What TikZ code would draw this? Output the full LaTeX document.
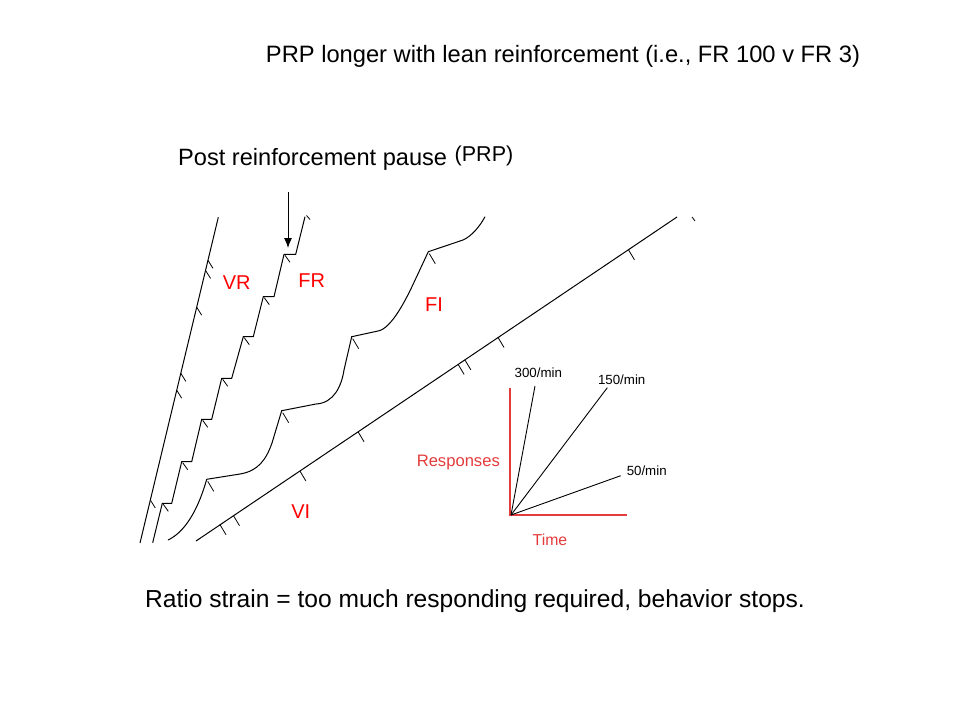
\documentclass[tikz,border=0pt]{standalone}
\usepackage{fontspec}
\setmainfont{Liberation Sans}
\usetikzlibrary{arrows.meta,calc}
\definecolor{axred}{RGB}{228,60,60}
\begin{document}
\begin{tikzpicture}[x=1pt,y=-1pt,
  curve/.style={black, line width=1pt, line join=miter},
  tickmark/.style={black, line width=0.8pt},
  lbl/.style={text=red, font=\fontsize{20}{20}\selectfont, anchor=base, inner sep=0pt},
  bigtxt/.style={text=black, anchor=base, inner sep=0pt},
  axisline/.style={axred, line width=1.6pt},
  rateline/.style={black, line width=0.9pt},
  ratelbl/.style={text=black, font=\fontsize{13.3}{13.3}\selectfont, anchor=base, inner sep=0pt},
  axlbl/.style={text=axred, anchor=base, inner sep=0pt}]
\path[use as bounding box] (0,0) rectangle (960,720);
\fill[white] (0,0) rectangle (960,720);

% texts
\node[bigtxt, font=\fontsize{23.7}{24}\selectfont] (title) at (563,62) {PRP longer with lean reinforcement (i.e., FR 100 v FR 3)};
\node[bigtxt, font=\fontsize{23.6}{24}\selectfont, anchor=base west] (prp) at (178,165) {Post reinforcement pause};
\node[bigtxt, font=\fontsize{21.5}{24}\selectfont] (prpabbr) at (484,161.5) {(PRP)};
\node[bigtxt, font=\fontsize{24.6}{25}\selectfont] (strain) at (475,607) {Ratio strain = too much responding required, behavior stops.};

% VR
\coordinate (vr0) at (140,543);
\coordinate (vr1) at (218.3,217.3);
\draw[curve] (vr0) -- (vr1);
\foreach \t in {0.132,0.469,0.521,0.724,0.837,0.868}
  \draw[tickmark] ($(vr0)!\t!(vr1)$) -- ++(5,8);

% FR
\coordinate (fr0) at (152.7,542.7);
\coordinate (fr1) at (162.3,503.3);
\coordinate (fr2) at (181.7,461.7);
\coordinate (fr3) at (201.7,419.3);
\coordinate (fr4) at (221.7,378.3);
\coordinate (fr5) at (243.3,336.7);
\coordinate (fr6) at (263.3,296.7);
\coordinate (fr7) at (284,254.3);
\coordinate (fr8) at (305,216.7);
\draw[curve] (fr0) -- (fr1) -- ++(9.4,0) -- (fr2) -- ++(10,0) -- (fr3) -- ++(10,0)
  -- (fr4) -- ++(10,0) -- (fr5) -- ++(10,0) -- (fr6) -- ++(10.7,0) -- (fr7) -- ++(11.7,0) -- (fr8);
\foreach \c in {fr1,fr2,fr3,fr4,fr5,fr6,fr7}
  \draw[tickmark] ($(\c)+(1,1)$) -- ++(5,7);
\draw[tickmark] (306.5,215.5) -- ++(3.5,4);

% FI
\coordinate (fi0) at (168,540);
\coordinate (fi1) at (206.7,479.3);
\coordinate (fi2) at (281.7,410.7);
\coordinate (fi3) at (351.7,336.7);
\coordinate (fi4) at (428.3,251.7);
\coordinate (fi5) at (485,216.7);
\draw[curve] (fi0) .. controls (185,532) and (198,510) .. (fi1)
  -- (240,474) .. controls (258,471) and (266,460) .. (272,443) -- (fi2)
  -- (316,404) .. controls (334,403) and (341.5,386) .. (344,370) -- (fi3)
  -- (378,331) .. controls (392,328.5) and (407,297) .. (413,284.5) -- (fi4)
  -- (463,240) .. controls (472,236) and (480,226) .. (fi5);
\foreach \c in {fi1,fi2,fi3,fi4}
  \draw[tickmark] ($(\c)+(1,2)$) -- ++(6,10);

% VI
\coordinate (vi0) at (196,541);
\coordinate (vi1) at (677,217);
\draw[curve] (vi0) -- (vi1);
\foreach \t in {0.050,0.078,0.216,0.337,0.545,0.559,0.628,0.899}
  \draw[tickmark] ($(vi0)!\t!(vi1)$) -- ++(6,10);
\draw[tickmark] (692,217) -- ++(3,4);

% PRP arrow
\coordinate (arrS) at (288,192);
\coordinate (arrE) at (288,248);
\draw[black, line width=1pt, -{Latex[length=10pt,width=8pt]}] (arrS) -- (arrE);

% schedule labels
\node[lbl] (vrl) at (236.7,289.3) {VR};
\node[lbl] (frl) at (311.7,287.3) {FR};
\node[lbl] (fil) at (434,311.7) {FI};
\node[lbl] (vil) at (300.7,518.3) {VI};

% inset
\coordinate (ytop) at (510,388);
\coordinate (orig) at (510,515);
\coordinate (xend) at (627,515);
\draw[axisline] (ytop) -- (orig) -- (xend);
\coordinate (o2) at (511,515);
\coordinate (e300) at (535,386);
\coordinate (e150) at (607.3,387.7);
\coordinate (e50) at (620.7,475.7);
\draw[rateline] (o2) -- (e300);
\draw[rateline] (o2) -- (e150);
\draw[rateline] (o2) -- (e50);
\node[ratelbl] (l300) at (538.3,377.3) {300/min};
\node[ratelbl] (l150) at (621.7,384) {150/min};
\node[ratelbl] (l50) at (646.7,475) {50/min};
\node[axlbl, font=\fontsize{16.6}{17}\selectfont] (resp) at (458.3,466) {Responses};
\node[axlbl, font=\fontsize{15.8}{16}\selectfont] (time) at (550,545) {Time};
\end{tikzpicture}
\end{document}
